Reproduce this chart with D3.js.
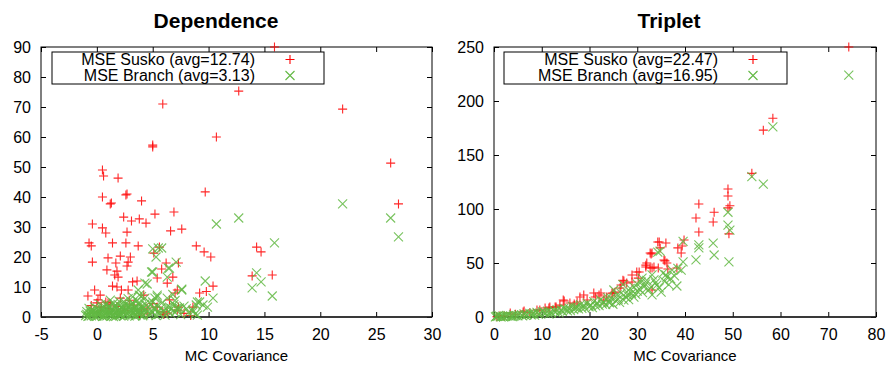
<!DOCTYPE html>
<html>
<head>
<meta charset="utf-8">
<script src="https://cdn.jsdelivr.net/npm/d3@7"></script>
<style>
  body { margin: 0; background: #fff; }
  svg { display: block; font-family: "Liberation Sans", Arial, Helvetica, sans-serif; }
</style>
</head>
<body>
<svg id="chart" width="890" height="367"></svg>
<script>
// ---- data ----
const depXTicks = [-5, 0, 5, 10, 15, 20, 25, 30];
const depYTicks = [0, 10, 20, 30, 40, 50, 60, 70, 80, 90];
const triXTicks = [0, 10, 20, 30, 40, 50, 60, 70, 80];
const triYTicks = [0, 50, 100, 150, 200, 250];

const depLabels = ["MSE Susko (avg=12.74)", "MSE Branch (avg=3.13)"];
const triLabels = ["MSE Susko (avg=22.47)", "MSE Branch (avg=16.95)"];

const depSusko = [
  [15.9, 90], [12.7, 75.3], [22.0, 69.3], [5.9, 71], [10.7, 60], [5.0, 57.3], [5.0, 56.7],
  [26.3, 51.3], [0.5, 49], [0.6, 47], [1.9, 46.3], [9.7, 41.7], [0.5, 40], [2.6, 40.7],
  [2.7, 41], [1.2, 37.7], [1.3, 38], [4.0, 38.7], [27.0, 37.7], [6.9, 35], [5.2, 34.3],
  [2.4, 33.3], [3.8, 32.7], [3.1, 32], [4.4, 31.3], [-0.4, 31], [0.5, 29.7], [7.6, 29.3],
  [6.6, 28.7], [2.7, 28.3], [0.8, 28], [-0.7, 24.7], [1.4, 24.7], [2.6, 24.7], [-0.5, 23.7],
  [3.7, 23.7], [8.9, 23.7], [5.6, 23.3], [14.3, 23.3], [14.7, 21.7], [9.6, 21.7], [5.1, 21.3],
  [2.1, 20.3], [10.2, 20], [3.0, 20], [1.0, 19.7], [-0.4, 18.3], [2.8, 18.3], [1.7, 18],
  [6.2, 18], [7.3, 18], [2.7, 17], [5.8, 16], [0.9, 15.7], [1.8, 15.3], [1.6, 14],
  [15.7, 14], [13.9, 13.7], [1.9, 13.3], [6.8, 13.3], [5.4, 13], [3.6, 12], [3.2, 11.7],
  [6.3, 11.3], [10.4, 10.3], [1.4, 10.3], [1.8, 10], [-0.2, 9], [2.2, 9], [2.8, 9],
  [7.2, 9], [9.8, 8.5], [7.0, 8], [9.2, 8], [0.3, 7.3], [4.2, 7.3], [-0.8, 7], [2.1, 6.3],
  [0.1, 5.7], [6.5, 5.7], [1.0, 4.7], [0.0, 4.7], [1.2, 4], [0.4, 3.3], [5.4, 3.3],
  [8.6, 3.3], [7.3, 3.3], [4.5, 3], [7.2, 2.3], [5.9, 1.7], [6.3, 1.3], [0.3, 2.0],
  [1.1, 2.8], [1.8, 3.5], [2.5, 2.2], [3.3, 4.0], [4.0, 2.6], [0.8, 5.0], [2.9, 5.6],
  [-0.5, 3.8], [5.0, 4.5], [6.0, 0.8], [4.5, 1.0], [3.8, 0.6], [7.8, 1.2], [8.4, 0.5]
];

const depBranch = [
  [-1.0, 0.5], [-0.9, 1.8], [-0.8, 0.2], [-0.7, 2.9], [-0.6, 1.1], [-0.5, 0.4], [-0.4, 2.2],
  [-0.3, 0.9], [-0.2, 3.4], [-0.1, 1.5], [0.0, 0.3], [0.1, 2.6], [0.2, 1.2], [0.3, 4.1],
  [0.4, 0.7], [0.5, 2.0], [0.6, 3.1], [0.7, 0.5], [0.8, 1.6], [0.9, 2.7], [1.0, 0.9],
  [1.1, 3.8], [1.2, 1.9], [1.3, 0.4], [1.4, 2.4], [1.5, 4.6], [1.6, 1.3], [1.7, 3.0],
  [1.8, 0.6], [1.9, 2.1], [2.0, 5.2], [2.1, 1.0], [2.2, 3.3], [2.3, 1.7], [2.4, 0.3],
  [2.5, 4.0], [2.6, 2.5], [2.7, 1.2], [2.8, 6.1], [2.9, 3.6], [3.0, 0.8], [3.1, 2.2],
  [3.2, 4.8], [3.3, 1.5], [3.4, 3.0], [3.5, 0.5], [3.6, 5.5], [3.7, 2.0], [3.8, 3.9],
  [3.9, 1.1], [4.0, 6.8], [4.1, 2.8], [4.2, 0.7], [4.3, 4.3], [4.5, 1.8], [4.6, 3.2],
  [4.8, 0.9], [5.0, 5.0], [5.2, 2.3], [5.4, 3.8], [5.6, 1.0], [5.8, 4.6], [6.0, 2.0],
  [6.3, 3.4], [6.6, 1.2], [6.9, 4.2], [7.2, 2.5], [7.5, 0.8], [7.8, 3.6], [8.2, 1.5],
  [8.6, 2.3], [9.0, 0.6], [0.5, 0.2], [1.5, 0.1], [2.5, 0.6], [3.5, 1.9], [1.0, 2.3],
  [2.0, 0.8], [0.2, 0.6], [-0.5, 1.4], [3.0, 3.5], [4.0, 1.5], [2.2, 2.0], [1.2, 1.0],
  [3.2, 6.7], [4.3, 6.3], [5.4, 6.7], [3.7, 9.0], [4.5, 11.0], [4.9, 15.0], [6.3, 13.3],
  [6.4, 16.3], [7.1, 18.3], [5.0, 22.7], [5.5, 23.0], [5.3, 20.0], [7.6, 9.3], [6.8, 7.5],
  [7.0, 5.5], [9.2, 5.0], [8.9, 4.0], [9.5, 4.0], [9.9, 3.3], [10.4, 6.3], [9.7, 12.0],
  [10.7, 31.0], [12.7, 33.0], [13.9, 9.7], [14.3, 14.7], [14.7, 11.7], [15.7, 7.0],
  [15.9, 24.7], [22.0, 37.7], [26.3, 33.0], [27.0, 26.7], [9.0, 5.0], [8.6, 1.7],
  [7.2, 3.0], [6.5, 3.3], [7.6, 9.0], [5.4, 7.3], [6.3, 6.3], [6.5, 16.3], [5.0, 15.0],
  [4.3, 11.3], [5.8, 23.0], [3.8, 7.3], [5.2, 6.3],
  [-0.9, 0.9], [-0.7, 0.3], [-0.6, 2.0], [-0.3, 1.8], [-0.2, 0.2], [0.0, 1.4], [0.1, 0.8],
  [0.3, 1.7], [0.4, 2.9], [0.6, 0.3], [0.7, 1.2], [0.9, 0.4], [1.0, 3.3], [1.1, 1.3],
  [1.3, 2.6], [1.4, 0.7], [1.5, 1.9], [1.6, 3.6], [1.7, 0.2], [1.8, 1.5], [1.9, 4.2],
  [2.0, 2.7], [2.1, 0.5], [2.3, 3.0], [2.4, 1.3], [2.5, 2.0], [2.6, 0.9], [2.7, 3.9],
  [2.8, 1.7], [2.9, 0.4], [3.0, 2.6], [3.1, 4.2], [3.2, 1.0], [3.3, 2.9], [3.4, 0.3],
  [3.5, 3.3], [3.6, 1.4], [3.7, 4.5], [3.8, 0.9], [3.9, 2.4], [4.0, 3.6], [4.1, 0.4],
  [4.2, 1.9], [4.4, 2.6], [4.6, 0.6], [4.7, 4.9], [4.9, 1.6], [5.1, 3.0], [5.3, 0.5],
  [5.5, 1.9], [5.7, 2.9], [6.1, 0.6], [6.4, 1.8], [6.7, 2.8], [7.0, 1.5], [7.4, 3.0],
  [8.0, 2.7], [8.8, 1.0], [1.2, 5.6], [2.4, 5.1], [0.8, 4.4]
];

const triSusko = [
  [0.6, 0.2], [1.2, 1.0], [2.1, 1.0], [3.4, 3.7], [4.5, 2.5], [6.1, 4.6], [6.3, 5.6],
  [7.5, 4.0], [9.0, 6.5], [9.6, 6.5], [10.7, 8.3], [11.5, 8.3], [11.7, 9.3], [12.8, 9.3],
  [13.0, 9.3], [13.8, 11.0], [14.7, 14.8], [14.5, 15.7], [15.9, 13.0], [16.8, 12.0],
  [17.4, 13.9], [18.0, 18.5], [18.8, 20.4], [19.5, 15.7], [20.9, 22.2], [21.2, 18.5],
  [22.0, 20.4], [22.4, 22.2], [23.0, 15.7], [23.6, 18.5], [24.7, 22.0], [24.9, 22.2],
  [25.3, 23.0], [26.4, 26.8], [26.6, 29.6], [27.0, 34.0], [27.2, 33.3], [27.8, 31.5],
  [28.9, 32.4], [28.9, 38.9], [29.9, 41.7], [30.2, 36.0], [30.4, 41.7], [31.8, 46.3],
  [31.8, 48.0], [32.0, 50.0], [32.7, 45.4], [32.7, 59.3], [32.9, 58.3], [33.1, 59.3],
  [33.1, 45.4], [33.1, 25.0], [33.5, 46.3], [34.3, 69.4], [34.4, 45.4], [34.6, 69.4],
  [34.8, 64.0], [35.6, 52.8], [35.8, 52.0], [36.0, 68.5], [36.2, 50.0], [36.4, 44.4],
  [38.3, 45.4], [38.5, 64.0], [39.2, 59.3], [39.4, 65.7], [39.8, 71.3], [42.3, 91.7],
  [42.9, 104.6], [42.9, 78.7], [45.9, 88.0], [46.1, 97.0], [49.0, 118.5], [49.0, 112.0],
  [49.4, 103.0], [49.0, 101.0], [49.2, 77.0], [54.0, 133.0], [56.4, 173.0], [58.4, 184.0],
  [74.3, 250.0]
];

const triBranch = [
  [0.3, 0.2], [0.8, 0.5], [1.3, 0.3], [1.8, 0.9], [2.4, 0.6], [3.0, 1.2], [3.5, 0.8],
  [4.1, 1.9], [4.6, 1.3], [5.2, 2.2], [5.8, 1.7], [6.3, 2.8], [6.9, 2.3], [7.5, 3.4],
  [8.0, 2.9], [8.4, 3.7], [9.0, 4.2], [9.6, 3.6], [10.1, 5.0], [10.5, 4.6], [11.2, 5.5],
  [11.8, 4.9], [12.6, 5.6], [13.2, 6.8], [14.0, 6.5], [14.6, 7.9], [15.1, 7.2], [15.7, 8.3],
  [16.4, 9.8], [17.0, 8.8], [17.4, 9.3], [18.1, 11.5], [18.8, 11.0], [19.5, 12.8],
  [20.3, 11.0], [20.9, 14.2], [21.6, 13.0], [22.3, 15.8], [23.0, 13.9], [23.8, 18.0],
  [24.5, 17.6], [25.1, 25.0], [25.8, 20.4], [26.6, 22.2], [27.2, 15.7], [27.8, 23.0],
  [28.5, 26.5], [29.3, 27.8], [29.3, 18.5], [30.0, 30.5], [30.8, 32.4], [31.4, 27.8],
  [32.0, 34.0], [32.9, 27.8], [33.1, 20.4], [33.1, 39.0], [33.5, 34.3], [34.1, 29.6],
  [34.3, 60.0], [34.8, 61.0], [35.0, 23.0], [35.4, 40.7], [36.0, 39.0], [36.2, 37.0],
  [37.3, 43.5], [38.3, 28.7], [38.5, 45.0], [39.2, 43.5], [39.6, 51.0], [39.6, 70.0],
  [42.3, 52.8], [42.9, 64.0], [42.9, 66.7], [45.9, 68.5], [46.1, 57.4], [49.0, 97.0],
  [49.0, 85.0], [49.4, 80.5], [49.2, 51.0], [54.0, 130.0], [56.4, 123.0], [58.4, 176.0],
  [74.3, 224.0], [1.0, 1.5], [2.0, 0.2], [4.0, 0.5], [6.0, 1.0], [8.5, 1.8], [12.0, 3.5],
  [16.0, 6.0], [19.0, 8.5], [22.0, 10.5], [24.0, 14.0], [26.0, 16.5], [28.0, 20.0],
  [30.0, 24.0], [31.0, 36.0], [27.0, 30.0],
  [0.5, 0.7], [1.5, 0.2], [2.7, 0.9], [3.8, 0.4], [5.0, 1.0], [6.6, 1.5], [7.8, 1.9],
  [9.3, 2.5], [10.8, 3.4], [11.5, 2.6], [12.9, 4.3], [13.6, 3.8], [14.3, 5.2], [15.4, 5.6],
  [16.7, 6.9], [17.7, 7.5], [18.4, 8.0], [19.9, 9.5], [20.6, 8.7], [21.3, 10.2], [22.7, 12.0],
  [23.4, 11.4], [24.2, 13.2], [24.9, 11.8], [25.5, 15.0], [26.3, 13.5], [27.5, 18.8],
  [28.2, 16.0], [28.8, 22.0], [29.7, 21.0], [30.4, 26.0], [31.1, 22.5], [31.7, 30.5],
  [32.4, 25.0], [33.8, 31.5], [34.6, 27.0], [35.7, 33.0], [36.6, 30.0], [37.0, 35.5],
  [37.8, 38.0]
];

// ---- drawing ----
const red = "#ff0000";
const green = "#62b843";
const plotTop = 47, plotBottom = 317;

const svg = d3.select("#chart");

function plusPath(x, y) {
  const r = 4.5;
  return `M${x - r},${y}h${2 * r}M${x},${y - r}v${2 * r}`;
}
function crossPath(x, y) {
  const r = 4.5;
  return `M${x - r},${y - r}l${2 * r},${2 * r}M${x - r},${y + r}l${2 * r},${-2 * r}`;
}

function drawPanel(p) {
  const x = d3.scaleLinear().domain(d3.extent(p.xTicks)).range([p.left, p.right]);
  const y = d3.scaleLinear().domain(d3.extent(p.yTicks)).range([plotBottom, plotTop]);
  const g = svg.append("g");
  const plain = d => String(d);

  // inward ticks on all four sides
  const bottom = g.append("g").attr("transform", `translate(0,${plotBottom})`)
    .call(d3.axisBottom(x).tickValues(p.xTicks).tickSize(-5).tickPadding(12).tickFormat(plain));
  const top = g.append("g").attr("transform", `translate(0,${plotTop})`)
    .call(d3.axisTop(x).tickValues(p.xTicks).tickSize(-5).tickFormat(""));
  const left = g.append("g").attr("transform", `translate(${p.left},0)`)
    .call(d3.axisLeft(y).tickValues(p.yTicks).tickSize(-5).tickPadding(10).tickFormat(plain));
  const right = g.append("g").attr("transform", `translate(${p.right},0)`)
    .call(d3.axisRight(y).tickValues(p.yTicks).tickSize(-5).tickFormat(""));

  [bottom, top, left, right].forEach(a => {
    a.select(".domain").remove();
    a.selectAll("line").attr("stroke", "#000");
    a.selectAll("text").attr("font-size", 16).attr("fill", "#000")
      .attr("font-family", "Liberation Sans, Arial, sans-serif");
  });

  g.append("rect")
    .attr("x", p.left).attr("y", plotTop)
    .attr("width", p.right - p.left).attr("height", plotBottom - plotTop)
    .attr("fill", "none").attr("stroke", "#000").attr("stroke-width", 1);
  g.append("line")
    .attr("x1", p.left).attr("x2", p.right)
    .attr("y1", plotBottom).attr("y2", plotBottom)
    .attr("stroke", "#222").attr("stroke-width", 1.6);

  // title and axis label
  g.append("text")
    .attr("x", p.titleX).attr("y", 28)
    .attr("text-anchor", "middle")
    .attr("font-size", 21).attr("font-weight", "bold")
    .text(p.title);
  g.append("text")
    .attr("x", (p.left + p.right) / 2).attr("y", 361)
    .attr("text-anchor", "middle")
    .attr("font-size", 15)
    .text("MC Covariance");

  // points: Susko first, Branch drawn on top
  g.append("g").selectAll("path").data(p.susko).join("path")
    .attr("d", d => plusPath(x(d[0]), y(d[1])))
    .attr("stroke", red).attr("stroke-width", 1.1).attr("stroke-opacity", 0.85)
    .attr("fill", "none");
  g.append("g").selectAll("path").data(p.branch).join("path")
    .attr("d", d => crossPath(x(d[0]), y(d[1])))
    .attr("stroke", green).attr("stroke-width", 1.1).attr("stroke-opacity", 0.85)
    .attr("fill", "none");

  // legend
  const lg = g.append("g");
  lg.append("rect")
    .attr("x", p.legend[0]).attr("y", 52)
    .attr("width", p.legend[1] - p.legend[0]).attr("height", 32)
    .attr("fill", "#fff").attr("stroke", "#000").attr("stroke-width", 1);
  const rows = [59.5, 75.5];
  p.labels.forEach((t, i) => {
    lg.append("text")
      .attr("x", p.legend[2]).attr("y", rows[i])
      .attr("dy", "0.36em")
      .attr("text-anchor", "end")
      .attr("font-size", 16)
      .text(t);
  });
  lg.append("path").attr("d", plusPath(p.legend[3], rows[0]))
    .attr("stroke", red).attr("stroke-width", 1.1).attr("fill", "none");
  lg.append("path").attr("d", crossPath(p.legend[3], rows[1]))
    .attr("stroke", green).attr("stroke-width", 1.1).attr("fill", "none");
}

drawPanel({
  left: 41, right: 432, xTicks: depXTicks, yTicks: depYTicks,
  title: "Dependence", titleX: 216, labels: depLabels,
  legend: [52, 324, 255, 290],
  susko: depSusko, branch: depBranch
});

drawPanel({
  left: 494, right: 876, xTicks: triXTicks, yTicks: triYTicks,
  title: "Triplet", titleX: 669, labels: triLabels,
  legend: [504, 787, 718, 753],
  susko: triSusko, branch: triBranch
});
</script>
</body>
</html>
